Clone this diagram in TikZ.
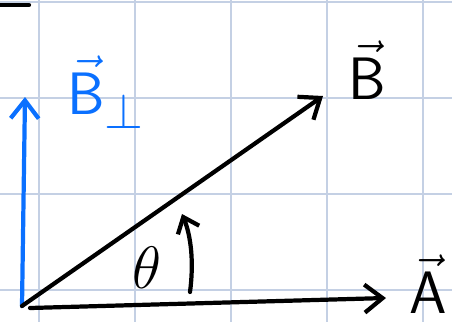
\documentclass[tikz,border=0pt]{standalone}
\usepackage{amsmath,amssymb}
\usepackage{tikz}
\usetikzlibrary{arrows.meta, positioning}
\definecolor{penblue}{RGB}{10,112,255}
\definecolor{gridline}{RGB}{196,208,228}
\tikzset{
  gridrule/.style={draw=gridline, line width=1.1pt},
  pen/.style={line width=2.4pt, line cap=round, line join=round},
  vecarrow/.style={pen, -{Straight Barb[length=3.6mm, width=5.6mm]}},
  veclabel/.style={inner sep=0pt, font=\Huge, scale=1.37},
}
\begin{document}
\begin{tikzpicture}[x=0.02cm, y=-0.02cm]
\useasboundingbox (0,0) rectangle (452,322);
% squared paper
\foreach \gx in {39,135,231,327,423} \draw[gridrule] (\gx,0) -- (\gx,322);
\foreach \gy in {2,98,194,290} \draw[gridrule] (0,\gy) -- (452,\gy);
\draw[pen] (0,5) -- (29,5);
\coordinate (O) at (22,306);
\coordinate (Astart) at (30,308);
\coordinate (Atip) at (386,298);
\coordinate (Btip) at (323,96);
\coordinate (Ptip) at (25,97);
\coordinate (arcA) at (190,292);
\coordinate (arcB) at (182,214);
\draw[vecarrow, draw=penblue] (O) -- (Ptip);
\draw[vecarrow] (O) -- (Btip);
\draw[vecarrow] (Astart) -- (Atip);
\draw[pen, -{Straight Barb[length=2.8mm, width=4.6mm]}] (arcA) .. controls (194,262) and (191,236) .. (arcB);
\node[veclabel, text=penblue] (bperp) at (106,92) {$\vec{\mathsf{B}}_{\perp}$};
\node[veclabel] (blabel) at (367,70) {$\vec{\mathsf{B}}$};
\node[veclabel] (alabel) at (428,284) {$\vec{\mathsf{A}}$};
\node[veclabel] (theta) at (147,268) {$\theta$};
\end{tikzpicture}
\end{document}
